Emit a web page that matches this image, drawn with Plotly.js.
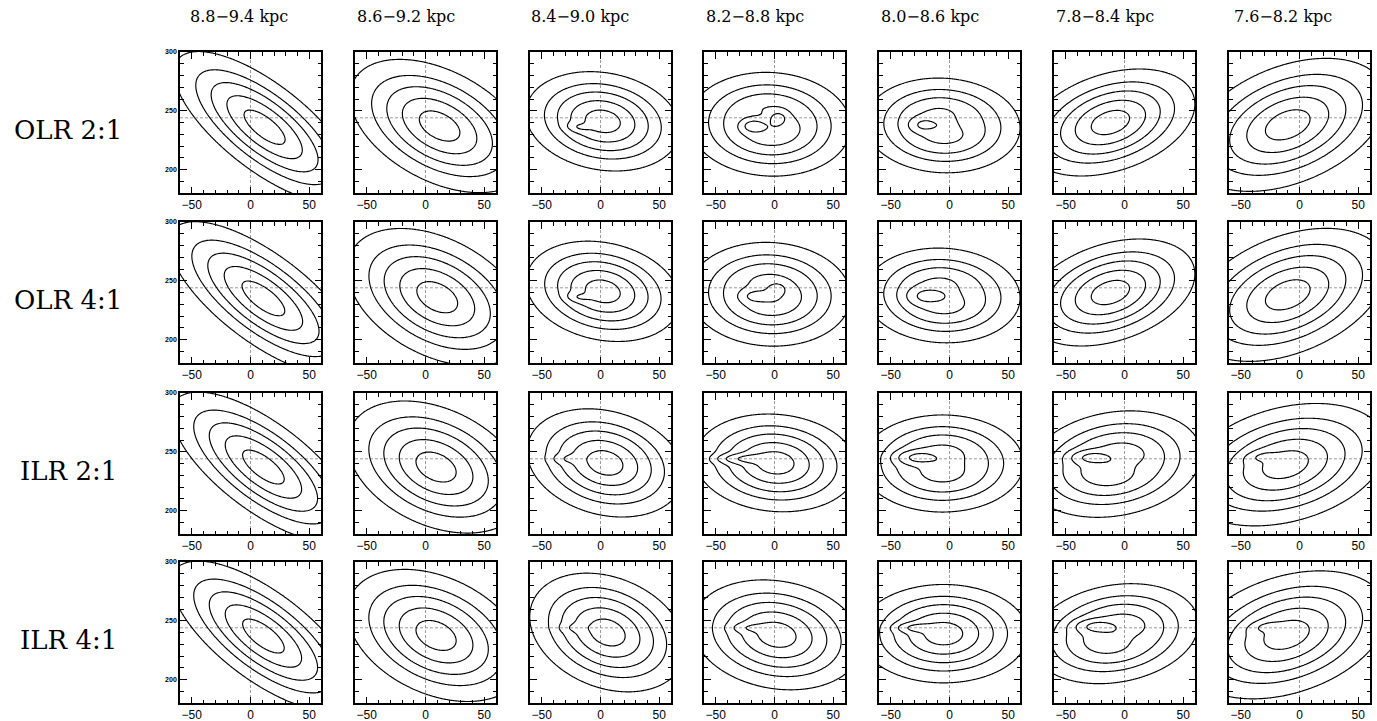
<!DOCTYPE html>
<html>
<head>
<meta charset="utf-8">
<script src="https://cdn.plot.ly/plotly-3.0.1.min.js"></script>
<style>html,body{margin:0;padding:0;background:#fff;}#chart{width:1377px;height:721px;}</style>
</head>
<body>
<div id="chart"></div>
<script>
// ---------- text ----------
const rowLabels = ["OLR 2:1", "OLR 4:1", "ILR 2:1", "ILR 4:1"];
const colTitles = ["8.8\u22129.4 kpc", "8.6\u22129.2 kpc", "8.4\u22129.0 kpc", "8.2\u22128.8 kpc",
                   "8.0\u22128.6 kpc", "7.8\u22128.4 kpc", "7.6\u22128.2 kpc"];
const xTickVals = [-50, 0, 50];
const yTickVals = [200, 250, 300];

// ---------- reference lines ----------
const refU = 0;
const refV = 244;

// ---------- contour levels (in -ln f) ----------
const contourLevels = [0.6, 1.5, 2.4, 3.3, 4.6];

// ---------- distribution components (panel = row*7+col) ----------
const compPanel = [0,1,2,2,3,3,3,3,4,4,4,5,6,7,8,9,9,10,10,10,10,11,11,11,12,13,14,15,16,16,17,17,18,18,18,19,19,19,20,20,21,22,23,23,24,24,25,25,26,26,26,27,27];
const compKind  = "kkkgkgggkggkkkkkgkgggkggkkkkkgkgkggkggkgkkkgkgkgkggkg".split("");
const compU = [12,12,2,-18,-4,-18,3,-6,-6,-5, -22,-12,-10,11,10,2,-18,-4,-17,2, -7,-6,-5,-21,-12,-10,11,9,4,-26, 1,-22,-6,-6,-26,-9,-8,-27,-12,-33, 11,9,6,-20,2,-20,-5,-28,-8,-7, -23,-11,-30];
const compV = [236,237,241,236,238.5,237,243.5,240.5,237.5,238, 238,240,238,235,236,241,236,238.5,237,243, 240,237.5,238,237,240,238,237,237,240.5,244, 240.5,244,240,240,245,239.5,240,245,239,246, 237,237.5,240,244,238,244,239,244,239,239, 245,238,245];
const compA = [17,15,12,6,12.5,6,4.5,13,12,14, 7,13.5,16,17.5,15,12,6,12.5,7,5, 13,12,14,8.5,13.5,16,17,14.5,12.3,8, 12.5,12,12.5,14,10,13.6,14,10,16,8, 17,14.5,12.5,8,13.2,9,13,9,13,13, 10,16,8];
const compB = [6.6,8.5,7.5,2.5,8,3.5,3.5,7,7.3,7, 3.8,7.5,9,6.8,9,7.5,2.5,8,3.5,3.5, 7,7.3,7,4.5,7.5,9,6.8,9,8,2.5, 7.5,2.5,7.5,7,3.5,8,7,3.5,8.8,3, 6.8,9,8.5,2.5,8.3,2.5,7.6,2.5,7.5,7, 3.5,9,3];
const compTilt = [-38,-28,-10,-5,-3,0,0,0,-3,0, 0,18,22,-37,-28,-12,-5,-3,0,0, 0,-3,0,0,18,22,-37,-25,-15,0, -5,0,0,0,0,10,0,0,15,10, -37,-25,-22,0,-10,0,0,0,10,0, 0,18,10];
const compW = [1,1,1,0.3,1,0.7,0.6,-0.6,1,-0.55, 0.45,1,1,1,1,1,0.3,1,0.45,0.42, -0.45,1,-0.5,0.45,1,1,1,1,1,0.12, 1,0.5,1,-0.55,0.55,1,-0.55,0.55,1,0.3, 1,1,1,0.1,1,0.3,1,0.5,1,-0.55, 0.55,1,0.3];

// ---------- layout geometry (pixels) ----------
const W = 1377, H = 721;
const colLeft = [180, 355, 530, 704, 879, 1054, 1229];
const rowTop = [52, 222, 393, 562];
const boxSize = 141;
const titleX = [239, 406, 580, 755, 930, 1105, 1283];

// sampling grid for the density
const gridU = [], gridV = [];
for (let u = -64; u <= 64; u += 1) gridU.push(u);
for (let v = 176; v <= 304; v += 1) gridV.push(v);

function density(p, u, v) {
  let f = 0;
  for (let i = 0; i < compPanel.length; i++) {
    if (compPanel[i] !== p) continue;
    const t = compTilt[i] * Math.PI / 180;
    const du = u - compU[i], dv = v - compV[i];
    const x1 = (du * Math.cos(t) + dv * Math.sin(t)) / compA[i];
    const y1 = (-du * Math.sin(t) + dv * Math.cos(t)) / compB[i];
    const r2 = x1 * x1 + y1 * y1;
    f += compW[i] * (compKind[i] === "k" ? Math.exp(1 - Math.sqrt(1 + r2)) : Math.exp(-r2 / 2));
  }
  return f;
}

const traces = [];
const layout = {
  width: W, height: H,
  margin: {l: 0, r: 0, t: 0, b: 0},
  paper_bgcolor: "#ffffff", plot_bgcolor: "#ffffff",
  font: {color: "#000000", family: "Liberation Sans, Arial, sans-serif"},
  showlegend: false, hovermode: false,
  shapes: [], annotations: []
};

for (let r = 0; r < 4; r++) {
  for (let c = 0; c < 7; c++) {
    const p = r * 7 + c;
    const sfx = p === 0 ? "" : String(p + 1);
    const xa = "x" + sfx, ya = "y" + sfx;
    const z = gridV.map(v => gridU.map(u => -Math.log(Math.max(density(p, u, v), 1e-9))));
    contourLevels.forEach(L => {
      traces.push({
        type: "contour", x: gridU, y: gridV, z: z, xaxis: xa, yaxis: ya,
        autocontour: false,
        contours: {start: L, end: L, size: 1, coloring: "none", showlines: true},
        line: {color: "#000000", width: 1.15, smoothing: 1},
        showscale: false, hoverinfo: "skip"
      });
    });
    const x0 = colLeft[c] / W, x1 = (colLeft[c] + boxSize) / W;
    const y1 = 1 - rowTop[r] / H, y0 = 1 - (rowTop[r] + boxSize) / H;
    const common = {
      showline: true, linecolor: "#000000", linewidth: 1.8, mirror: "ticks",
      ticks: "inside", ticklen: 6.5, tickwidth: 1.2, tickcolor: "#000000",
      showgrid: false, zeroline: false, fixedrange: true
    };
    layout["xaxis" + sfx] = Object.assign({}, common, {
      domain: [x0, x1], anchor: ya, range: [-60, 60],
      tickmode: "array", tickvals: xTickVals,
      tickfont: {family: "Liberation Sans, Arial, sans-serif", size: 12, color: "#000000"},
      minor: {dtick: 10, tick0: 0, ticks: "inside", ticklen: 3.5, tickwidth: 1, tickcolor: "#000000"}
    });
    layout["yaxis" + sfx] = Object.assign({}, common, {
      domain: [y0, y1], anchor: xa, range: [180, 300],
      tickmode: "array", tickvals: yTickVals,
      showticklabels: c === 0,
      tickfont: {family: "Liberation Sans, Arial, sans-serif", size: 7, color: "#000000", weight: 700},
      minor: {dtick: 10, tick0: 0, ticks: "inside", ticklen: 3.5, tickwidth: 1, tickcolor: "#000000"}
    });
    layout.shapes.push({type: "line", xref: xa, yref: ya, x0: refU, x1: refU, y0: 180, y1: 300,
      line: {color: "#9a9a9a", width: 1, dash: "3px,2px"}, layer: "below"});
    layout.shapes.push({type: "line", xref: xa, yref: ya, x0: -60, x1: 60, y0: refV, y1: refV,
      line: {color: "#9a9a9a", width: 1, dash: "3px,2px"}, layer: "below"});
  }
}

colTitles.forEach((t, c) => {
  layout.annotations.push({text: t, xref: "paper", yref: "paper", x: titleX[c] / W, y: 1 - 17 / H,
    xanchor: "center", yanchor: "middle", showarrow: false,
    font: {family: "DejaVu Serif, serif", size: 16, color: "#000000"}});
});
rowLabels.forEach((t, r) => {
  layout.annotations.push({text: t, xref: "paper", yref: "paper", x: 68 / W, y: 1 - (rowTop[r] + 78) / H,
    xanchor: "center", yanchor: "middle", showarrow: false,
    font: {family: "DejaVu Serif, serif", size: 26, color: "#000000"}});
});

Plotly.newPlot("chart", traces, layout, {staticPlot: true, displayModeBar: false});
</script>
</body>
</html>
